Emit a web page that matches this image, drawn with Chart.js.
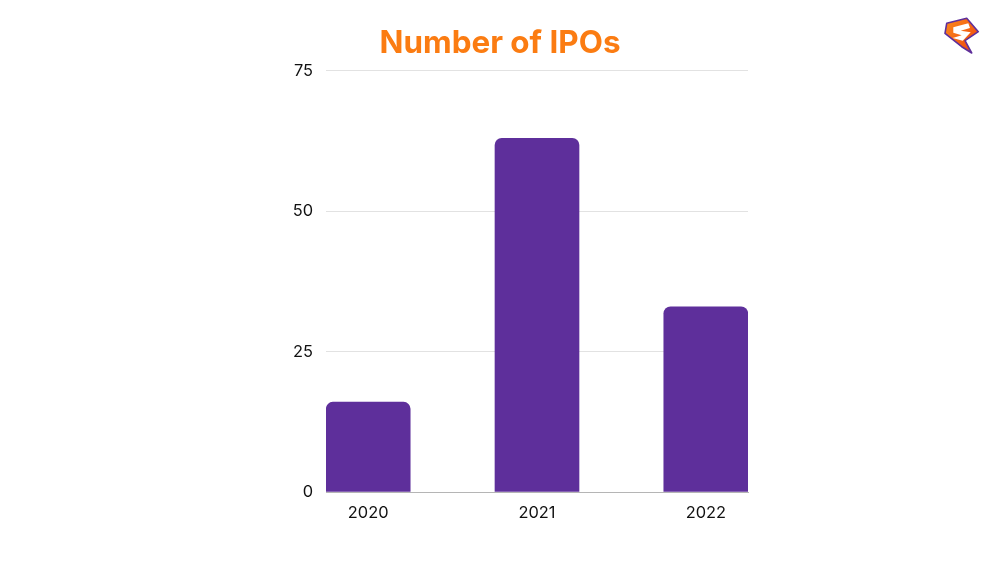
<!DOCTYPE html>
<html>
<head>
<meta charset="utf-8">
<title>Number of IPOs</title>
<script src="https://cdn.jsdelivr.net/npm/chart.js@4/dist/chart.umd.min.js"></script>
<style>
  html, body { margin: 0; padding: 0; background: #fff; overflow: hidden; }
  #caja { position: relative; width: 1000px; height: 563px; }
  #logo { position: absolute; left: 943px; top: 17px; }
</style>
</head>
<body>
<div id="caja">
  <canvas id="grafico" width="1000" height="563"></canvas>
  <!-- logo de la esquina -->
  <svg id="logo" width="37" height="40" viewBox="0 0 37 40">
    <defs>
      <linearGradient id="naranja" x1="0" y1="0" x2="1" y2="1">
        <stop offset="0" stop-color="#fb8c1c"/>
        <stop offset="1" stop-color="#ee3f0c"/>
      </linearGradient>
    </defs>
    <path d="M3.7 6.3 L23.7 1.3 L35.3 14.7 L22 23.7 L28.7 36 L18.7 29.7 L2 16.3 Z" fill="url(#naranja)" stroke="#5e2f9b" stroke-width="1.6" stroke-linejoin="round"/>
    <path d="M10.3 10.3 L25.3 6.3 L27 11 L17.7 13.7 L27.7 15.3 L19.7 23.7 L9.7 21 L18.7 18.3 L10.3 15.7 Z" fill="#fff"/>
  </svg>
</div>
<script>
const categorias = ['2020', '2021', '2022'];
const numeroIPOs = [16, 63, 33];
const ticksY = [0, 25, 50, 75];
const titulo = 'Number of IPOs';

const moradoBarra = '#5e2f9b';
const fuente = 'Inter, "Open Sans", sans-serif';

// el titulo va centrado en la pagina, no sobre el area del grafico
const tituloCentrado = {
  id: 'tituloCentrado',
  afterLayout(chart) {
    chart.titleBlock.left = 0;
    chart.titleBlock.right = chart.width;
  }
};

new Chart(document.getElementById('grafico'), {
  type: 'bar',
  plugins: [tituloCentrado],
  data: {
    datasets: [{
      data: numeroIPOs.map((v, i) => ({ x: i, y: v })),
      backgroundColor: moradoBarra,
      barThickness: 84,
      borderRadius: { topLeft: 7, topRight: 7, bottomLeft: 0, bottomRight: 0 },
      borderSkipped: false
    }]
  },
  options: {
    responsive: false,
    animation: false,
    devicePixelRatio: 1,
    layout: { padding: { left: 0, right: 252, top: 0, bottom: 0 } },
    plugins: {
      legend: { display: false },
      tooltip: { enabled: false },
      title: {
        display: true,
        text: titulo,
        color: '#fb7c12',
        font: { family: fuente, size: 31.4, weight: '700', lineHeight: 1.2 },
        padding: { top: 25, bottom: 8.3 }
      }
    },
    scales: {
      x: {
        type: 'linear',
        offset: false,
        // las barras tocan los bordes del area del grafico
        min: -0.25,
        max: 2.25,
        afterBuildTicks: (eje) => { eje.ticks = categorias.map((_, i) => ({ value: i })); },
        afterFit: (eje) => { eje.height = 71; },
        grid: { display: false, drawTicks: false },
        border: { display: true, color: '#b5b5b5', width: 1 },
        ticks: {
          callback: (valor) => categorias[valor],
          color: '#111',
          font: { family: fuente, size: 16.4 },
          padding: 11,
          maxRotation: 0,
          autoSkip: false
        }
      },
      y: {
        min: 0,
        max: 75,
        afterBuildTicks: (eje) => { eje.ticks = ticksY.map(v => ({ value: v })); },
        afterFit: (eje) => { eje.width = 326; },
        grid: { color: '#e2e2e2', drawTicks: false },
        border: { display: false },
        ticks: {
          color: '#111',
          font: { family: fuente, size: 16.4 },
          padding: 13
        }
      }
    }
  }
});
</script>
</body>
</html>
